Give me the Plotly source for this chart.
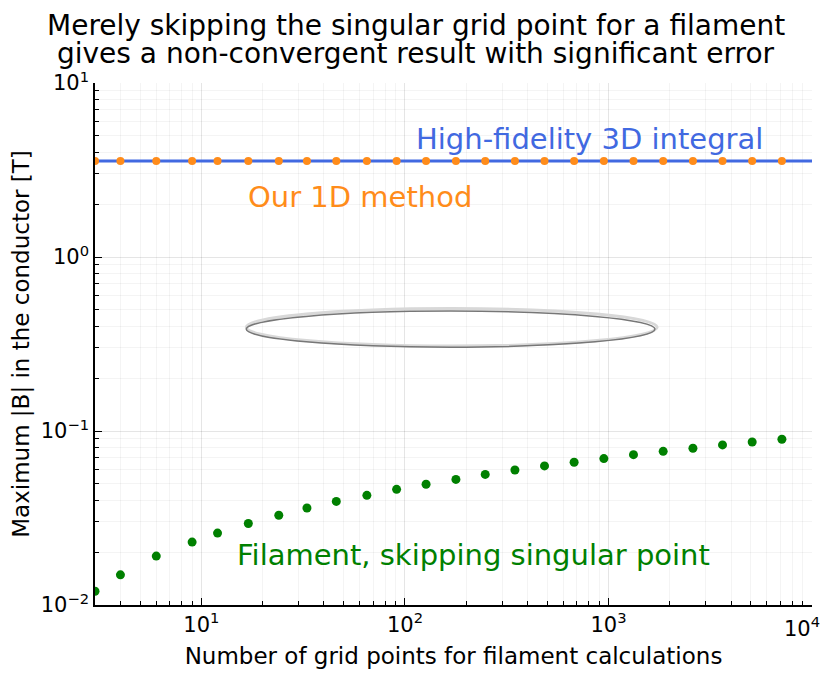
import numpy as np
import plotly.graph_objects as go

# number of grid points used for the filament calculations
n_points = [3, 4, 6, 9, 12, 17, 24, 33, 46, 65, 91, 127, 178, 248, 347, 485,
            678, 949, 1327, 1857, 2600, 3634, 5082, 7114]

# filament result, skipping the singular grid point
b_filament = [0.0120, 0.0149, 0.0191, 0.0230, 0.0259, 0.0294, 0.0328, 0.0361,
              0.0394, 0.0427, 0.0462, 0.0494, 0.0527, 0.0563, 0.0597, 0.0630,
              0.0661, 0.0694, 0.0731, 0.0764, 0.0796, 0.0832, 0.0865, 0.0896]

# our 1D method (same value at every grid size)
b_1d = [3.56] * len(n_points)

# high-fidelity 3D integral reference
hf_x = [3, 10000]
hf_b = [3.56, 3.56]

BLUE = "#4169E1"
ORANGE = "#FF8C1A"
GREEN = "#008000"
FONT = "DejaVu Sans"

fig = go.Figure()

fig.add_trace(go.Scatter(x=hf_x, y=hf_b, mode="lines",
                         line=dict(color=BLUE, width=3), showlegend=False))
fig.add_trace(go.Scatter(x=n_points, y=b_1d, mode="markers",
                         marker=dict(color=ORANGE, size=8), showlegend=False))
fig.add_trace(go.Scatter(x=n_points, y=b_filament, mode="markers",
                         marker=dict(color=GREEN, size=9), showlegend=False))

# labels next to the curves
fig.add_annotation(x=np.log10(804), y=np.log10(4.74), text="High-fidelity 3D integral",
                   showarrow=False, font=dict(color=BLUE, size=29, family=FONT))
fig.add_annotation(x=np.log10(60), y=np.log10(2.2), text="Our 1D method",
                   showarrow=False, font=dict(color=ORANGE, size=29, family=FONT))
fig.add_annotation(x=np.log10(216), y=np.log10(0.0193), text="Filament, skipping singular point",
                   showarrow=False, font=dict(color=GREEN, size=29, family=FONT))

# title, two lines, centred on the whole figure
fig.add_annotation(xref="paper", yref="paper", x=0.4475, y=1.111, yanchor="middle",
                   text="Merely skipping the singular grid point for a filament",
                   showarrow=False, font=dict(size=28, family=FONT, color="black"))
fig.add_annotation(xref="paper", yref="paper", x=0.4475, y=1.056, yanchor="middle",
                   text="gives a non-convergent result with significant error",
                   showarrow=False, font=dict(size=28, family=FONT, color="black"))

# the last x tick label sits on the right edge, so it is drawn as an annotation
fig.add_annotation(x=4, xref="x", yref="paper", y=-0.012, yanchor="top", xanchor="right",
                   xshift=10, text="10<sup>4</sup>", showarrow=False,
                   font=dict(size=21, family=FONT, color="black"))

# the little ring picture in the middle of the plot
fig.add_shape(type="circle", xref="paper", yref="paper",
              x0=0.211, x1=0.784, y0=0.496, y1=0.568,
              line=dict(color="#d8d8d8", width=3))
fig.add_shape(type="circle", xref="paper", yref="paper",
              x0=0.211, x1=0.781, y0=0.494, y1=0.563,
              line=dict(color="#777777", width=1.5))

tick_x = [10, 100, 1000, 10000]
tick_y = [0.01, 0.1, 1, 10]
minor_x = [m * 10 ** d for d in range(0, 4) for m in range(2, 10) if 3 <= m * 10 ** d <= 10000]
minor_y = [m * 10.0 ** d for d in range(-2, 1) for m in range(2, 10)]

axis_common = dict(
    type="log", showline=True, linecolor="black", linewidth=1.5, mirror=False,
    ticks="inside", ticklen=7, tickcolor="black", tickwidth=1.2, automargin=False,
    showgrid=True, gridcolor="rgba(0,0,0,0.1)", gridwidth=1, zeroline=False,
    tickfont=dict(size=21, family=FONT, color="black"),
)

fig.update_xaxes(axis_common, range=[np.log10(3), 4], tickvals=tick_x,
                 ticktext=["10<sup>1</sup>", "10<sup>2</sup>", "10<sup>3</sup>", ""],
                 minor=dict(tickvals=minor_x, ticks="inside", ticklen=4, tickcolor="black",
                            showgrid=True, gridcolor="rgba(0,0,0,0.045)"),
                 title=dict(text="Number of grid points for filament calculations",
                            font=dict(size=23, family=FONT, color="black"), standoff=15))
fig.update_yaxes(axis_common, range=[-2, 1], tickvals=tick_y,
                 ticktext=["10<sup>−2</sup>", "10<sup>−1</sup>", "10<sup>0</sup>", "10<sup>1</sup>"],
                 minor=dict(tickvals=minor_y, ticks="inside", ticklen=4, tickcolor="black",
                            showgrid=True, gridcolor="rgba(0,0,0,0.045)"),
                 title=dict(text="Maximum |B| in the conductor [T]",
                            font=dict(size=23, family=FONT, color="black"), standoff=12))

# the page adds an 8px body margin on every side, so the figure is shrunk to fit
fig.update_layout(
    width=814, height=661,
    margin=dict(l=87, r=10, t=75, b=64),
    plot_bgcolor="white", paper_bgcolor="white",
    font=dict(family=FONT),
)

fig.write_html("out.html")
